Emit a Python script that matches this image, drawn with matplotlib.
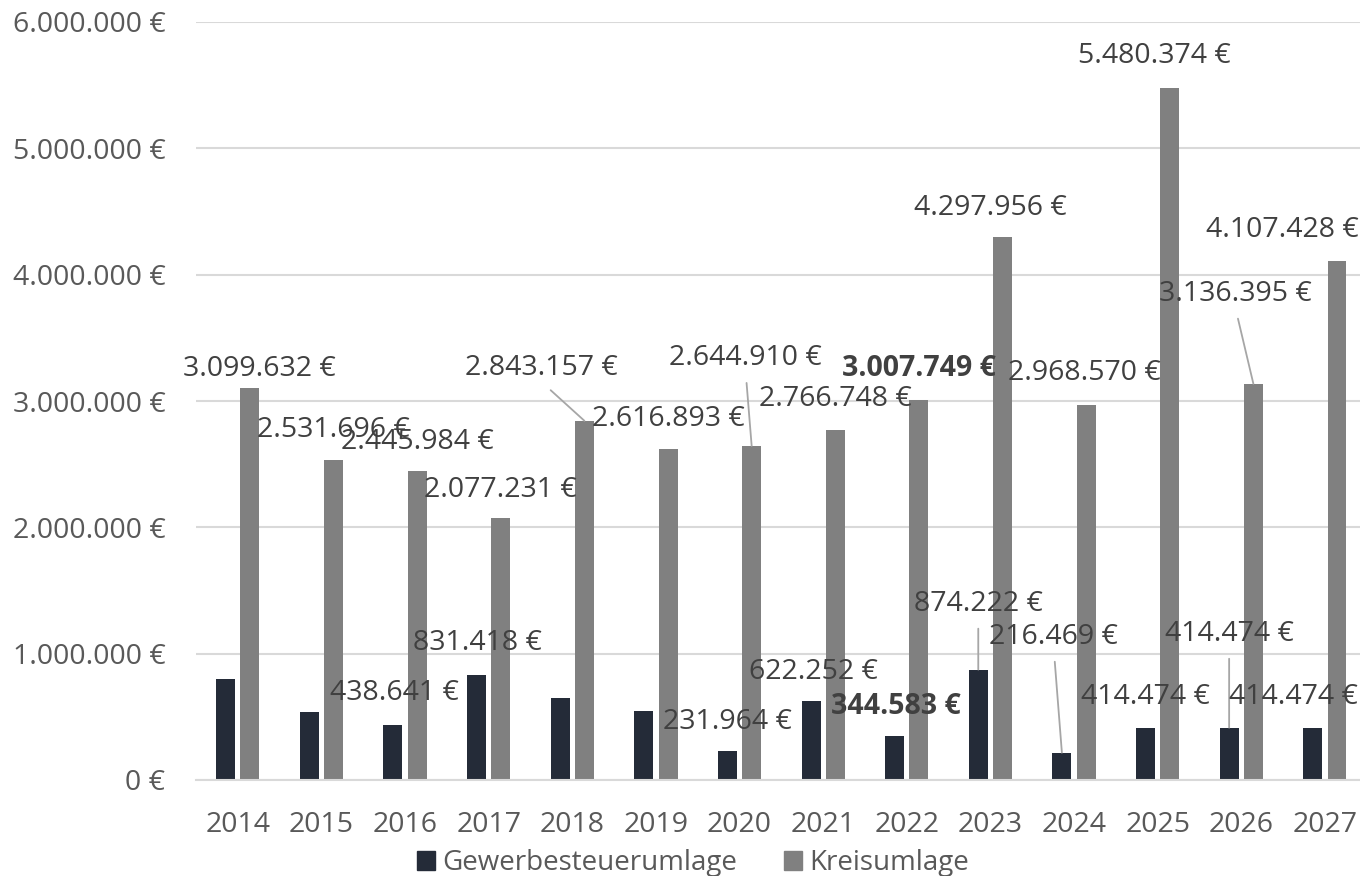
import matplotlib
matplotlib.use("Agg")
import matplotlib.pyplot as plt
import numpy as np
from matplotlib.ticker import FuncFormatter, MultipleLocator
from matplotlib.patches import Patch

plt.rcParams['font.family'] = ['Open Sans', 'DejaVu Sans']

years = ["2014", "2015", "2016", "2017", "2018", "2019", "2020",
         "2021", "2022", "2023", "2024", "2025", "2026", "2027"]
gewerbe = [797000, 541000, 438641, 831418, 647000, 546000, 231964,
           622252, 344583, 874222, 216469, 414474, 414474, 414474]
kreis = [3099632, 2531696, 2445984, 2077231, 2843157, 2616893, 2644910,
         2766748, 3007749, 4297956, 2968570, 5480374, 3136395, 4107428]
gewerbe_labeled = [False, False, True, True, False, False, True,
                   True, True, True, True, True, True, True]
bold_year = "2022"

# label offsets in pixels (dx, dy; dy negative = upward) and leader flag
kreis_off = [(9, -19, False), (0, -30, False), (0, -29, False), (0, -28, False),
             (-43, -53, True), (0, -30, False), (-6, -88, True), (0, -31, False),
             (0, -32, False), (-12, -29, False), (-2, -32, False), (-15, -32, False),
             (-18, -90, True), (-55, -31, False)]
gew_off = [None, None, (2, -32, False), (1, -32, False), None, None,
           (0, -29, False), (2, -29, False), (1, -30, False), (0, -66, True),
           (-8, -116, True), (0, -31, False), (0, -94, True), (-19, -31, False)]

def fmt(v):
    return f"{v:,.0f}".replace(",", ".") + " €"

dark = "#242B38"
grey = "#808080"
label_col = "#404040"
tick_col = "#595959"
grid_col = "#D9D9D9"
fs = 20.5

fig = plt.figure(figsize=(13.6, 8.76), dpi=100)
ax = fig.add_axes([196/1360, 1-780/876, (1360-196)/1360, (780-22)/876])

x = np.arange(len(years))
w = 0.227
off = 0.145
ax.bar(x - off, gewerbe, w, color=dark, zorder=2)
ax.bar(x + off, kreis, w, color=grey, zorder=2)

ax.set_xlim(-0.5, 13.42)
ax.set_ylim(0, 6000000)
ax.yaxis.set_major_locator(MultipleLocator(1000000))
ax.yaxis.set_major_formatter(FuncFormatter(lambda v, p: fmt(v)))
ax.set_xticks(x)
ax.set_xticklabels(years)
ax.tick_params(axis='both', length=0, labelsize=fs, labelcolor=tick_col)
ax.tick_params(axis='y', pad=22)
ax.tick_params(axis='x', pad=22)
for s in ['top', 'right', 'left']:
    ax.spines[s].set_visible(False)
ax.spines['bottom'].set_color(grid_col)
ax.spines['bottom'].set_linewidth(1.5)
ax.yaxis.grid(True, color=grid_col, linewidth=1.5, zorder=0)
ax.set_axisbelow(True)

def label(xpos, val, o):
    dx, dy, lead = o
    weight = 'bold' if years[int(round(xpos))] == bold_year else 'normal'
    kw = {}
    if lead:
        kw['arrowprops'] = dict(arrowstyle='-', color='#A6A6A6', lw=1.3,
                                shrinkA=6, shrinkB=0, relpos=(0.5, 0.0))
    ax.annotate(fmt(val), xy=(xpos, val), xytext=(dx, -dy),
                textcoords='offset pixels', ha='center', va='center',
                fontsize=fs, color=label_col, fontweight=weight, zorder=5, **kw)

for i in range(len(years)):
    label(x[i] + off, kreis[i], kreis_off[i])
    if gewerbe_labeled[i]:
        label(x[i] - off, gewerbe[i], gew_off[i])

handles = [Patch(color=dark, label="Gewerbesteuerumlage"),
           Patch(color=grey, label="Kreisumlage")]
fig.legend(handles=handles, loc='center', bbox_to_anchor=(693/1360, 1-863/876),
           ncol=2, frameon=False, fontsize=20, labelcolor=tick_col,
           handlelength=0.65, handleheight=0.65, handletextpad=0.25,
           columnspacing=1.7, borderpad=0)

fig.savefig("out.png", dpi=100)
